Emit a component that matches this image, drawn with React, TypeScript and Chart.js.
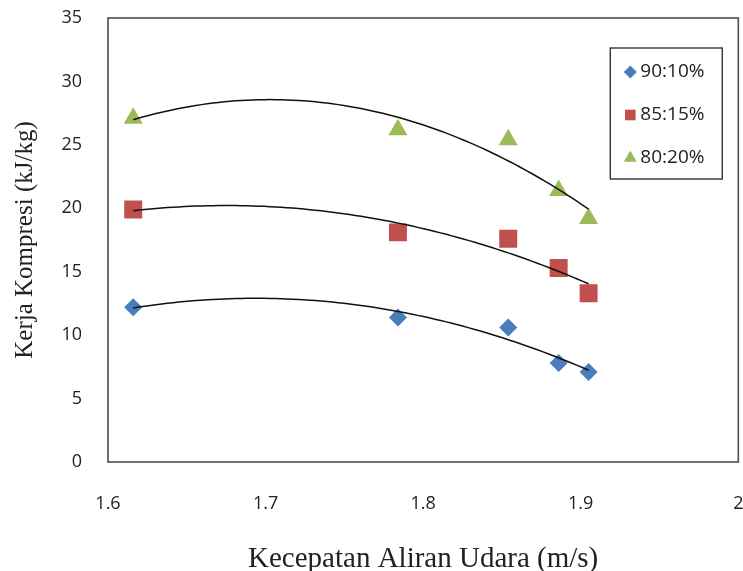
import React, { useEffect, useRef } from 'react';
import { Chart, registerables } from 'chart.js';

Chart.register(...registerables);

// ---- data ----
const xValues = [1.616, 1.784, 1.854, 1.886, 1.905];
const series90 = [12.2, 11.4, 10.6, 7.8, 7.1];
const series85 = [19.9, 18.1, 17.6, 15.3, 13.3];
const series80 = [27.1, 26.2, 25.4, 21.4, 19.2];
const seriesLabels = ['90:10%', '85:15%', '80:20%'];
const seriesColors = ['#4A7EBB', '#C0504D', '#9BBB59'];
const seriesShapes = ['rectRot', 'rect', 'triangle'];
const xTickValues = [1.6, 1.7, 1.8, 1.9, 2];
const yTickValues = [0, 5, 10, 15, 20, 25, 30, 35];
const xTitle = 'Kecepatan Aliran Udara (m/s)';
const yTitle = 'Kerja Kompresi (kJ/kg)';

// least-squares quadratic fit (like an order-2 polynomial trendline)
function quadFit(xs: number[], ys: number[]) {
  const m = 1.8;
  let s0 = 0, s1 = 0, s2 = 0, s3 = 0, s4 = 0, t0 = 0, t1 = 0, t2 = 0;
  xs.forEach((x, i) => {
    const u = x - m;
    const y = ys[i];
    s0 += 1; s1 += u; s2 += u * u; s3 += u * u * u; s4 += u * u * u * u;
    t0 += y; t1 += u * y; t2 += u * u * y;
  });
  const A = [
    [s0, s1, s2, t0],
    [s1, s2, s3, t1],
    [s2, s3, s4, t2],
  ];
  for (let i = 0; i < 3; i++) {
    for (let k = i + 1; k < 3; k++) {
      const f = A[k][i] / A[i][i];
      for (let j = i; j < 4; j++) A[k][j] -= f * A[i][j];
    }
  }
  const c = A[2][3] / A[2][2];
  const b = (A[1][3] - A[1][2] * c) / A[1][1];
  const a = (A[0][3] - A[0][1] * b - A[0][2] * c) / A[0][0];
  return (x: number) => a + b * (x - m) + c * (x - m) * (x - m);
}

function trendPoints(xs: number[], ys: number[]) {
  const f = quadFit(xs, ys);
  const lo = Math.min(...xs);
  const hi = Math.max(...xs);
  const pts: { x: number; y: number }[] = [];
  const n = 80;
  for (let i = 0; i <= n; i++) {
    const x = lo + ((hi - lo) * i) / n;
    pts.push({ x, y: f(x) });
  }
  return pts;
}

function drawMarker(ctx: CanvasRenderingContext2D, shape: string, x: number, y: number, r: number) {
  ctx.beginPath();
  if (shape === 'rectRot') {
    ctx.moveTo(x - r, y);
    ctx.lineTo(x, y - r);
    ctx.lineTo(x + r, y);
    ctx.lineTo(x, y + r);
  } else if (shape === 'rect') {
    const s = r * Math.SQRT1_2;
    ctx.rect(x - s, y - s, 2 * s, 2 * s);
  } else {
    ctx.moveTo(x, y - r);
    ctx.lineTo(x + r * Math.sin((2 * Math.PI) / 3), y - r * Math.cos((2 * Math.PI) / 3));
    ctx.lineTo(x + r * Math.sin((4 * Math.PI) / 3), y - r * Math.cos((4 * Math.PI) / 3));
  }
  ctx.closePath();
  ctx.fill();
}

const frameAndLegend = {
  id: 'frameAndLegend',
  afterDraw(chart: any) {
    const { ctx, chartArea } = chart;
    ctx.save();
    // plot frame
    ctx.strokeStyle = '#4d4d4d';
    ctx.lineWidth = 1.6;
    ctx.strokeRect(chartArea.left, chartArea.top, chartArea.right - chartArea.left, chartArea.bottom - chartArea.top);
    // legend box
    const lx = chartArea.right - 128;
    const ly = chartArea.top + 30;
    const lw = 112;
    const lh = 131;
    ctx.fillStyle = '#ffffff';
    ctx.fillRect(lx, ly, lw, lh);
    ctx.strokeStyle = '#333333';
    ctx.lineWidth = 1.4;
    ctx.strokeRect(lx, ly, lw, lh);
    ctx.font = '19px "Open Sans"';
    ctx.textBaseline = 'middle';
    ctx.textAlign = 'left';
    const radii = [6.5, 7.5, 7.5];
    for (let i = 0; i < 3; i++) {
      const cy = ly + 24 + i * 43;
      ctx.fillStyle = seriesColors[i];
      drawMarker(ctx, seriesShapes[i], lx + 20, cy, radii[i]);
      ctx.fillStyle = '#222222';
      ctx.fillText(seriesLabels[i], lx + 30, cy);
    }
    ctx.restore();
  },
};

export default function App() {
  const ref = useRef<HTMLCanvasElement | null>(null);
  useEffect(() => {
    if (!ref.current) return;
    const all = [series90, series85, series80];
    const markerRadius = [9, 12.7, 11];
    const scatterSets = all.map((ys, i) => ({
      type: 'scatter' as const,
      label: seriesLabels[i],
      data: xValues.map((x, k) => ({ x, y: ys[k] })),
      pointStyle: seriesShapes[i],
      pointRadius: markerRadius[i],
      pointBackgroundColor: seriesColors[i],
      pointBorderColor: seriesColors[i],
      pointBorderWidth: 0,
      showLine: false,
      order: 1,
    }));
    const trendSets = all.map((ys, i) => ({
      type: 'line' as const,
      label: 'trend ' + seriesLabels[i],
      data: trendPoints(xValues, ys),
      borderColor: '#111111',
      borderWidth: 1.5,
      pointRadius: 0,
      tension: 0,
      fill: false,
      order: 0,
    }));
    const chart = new Chart(ref.current, {
      type: 'scatter',
      data: { datasets: [...scatterSets, ...trendSets] as any },
      options: {
        animation: false,
        responsive: false,
        devicePixelRatio: 1,
        layout: { padding: { left: 0, right: 2, top: 18, bottom: 0 } },
        plugins: { legend: { display: false }, tooltip: { enabled: false } },
        scales: {
          x: {
            type: 'linear',
            min: 1.6,
            max: 2,
            afterFit: (s: any) => {
              s.height = 109;
              s.paddingLeft = 0;
              s.paddingRight = 0;
            },
            afterBuildTicks: (s: any) => { s.ticks = xTickValues.map((v) => ({ value: v })); },
            grid: { display: false, drawTicks: false },
            border: { display: false },
            ticks: {
              padding: 31,
              color: '#222',
              font: { family: '"Open Sans"', size: 18 },
              callback: (v: any) => String(Math.round(Number(v) * 10) / 10),
            },
            title: {
              display: true,
              text: xTitle,
              color: '#222',
              font: { family: '"Liberation Serif"', size: 29, lineHeight: 1 },
              padding: { top: 0, bottom: -3 },
            },
          },
          y: {
            type: 'linear',
            min: 0,
            max: 35,
            afterFit: (s: any) => {
              s.width = 108;
              s.paddingTop = 0;
              s.paddingBottom = 0;
            },
            afterBuildTicks: (s: any) => { s.ticks = yTickValues.map((v) => ({ value: v })); },
            grid: { display: false, drawTicks: false },
            border: { display: false },
            ticks: {
              padding: 26,
              color: '#222',
              font: { family: '"Open Sans"', size: 18 },
            },
            title: {
              display: true,
              text: yTitle,
              color: '#222',
              font: { family: '"Liberation Serif"', size: 25, lineHeight: 1 },
              padding: { top: 13, bottom: 0 },
            },
          },
        },
      },
      plugins: [frameAndLegend],
    });
    return () => chart.destroy();
  }, []);
  return (
    <div style={{ position: 'absolute', left: 0, top: 0, width: 743, height: 571, overflow: 'hidden', background: '#fff' }}>
      <canvas ref={ref} width={751} height={571} />
    </div>
  );
}
